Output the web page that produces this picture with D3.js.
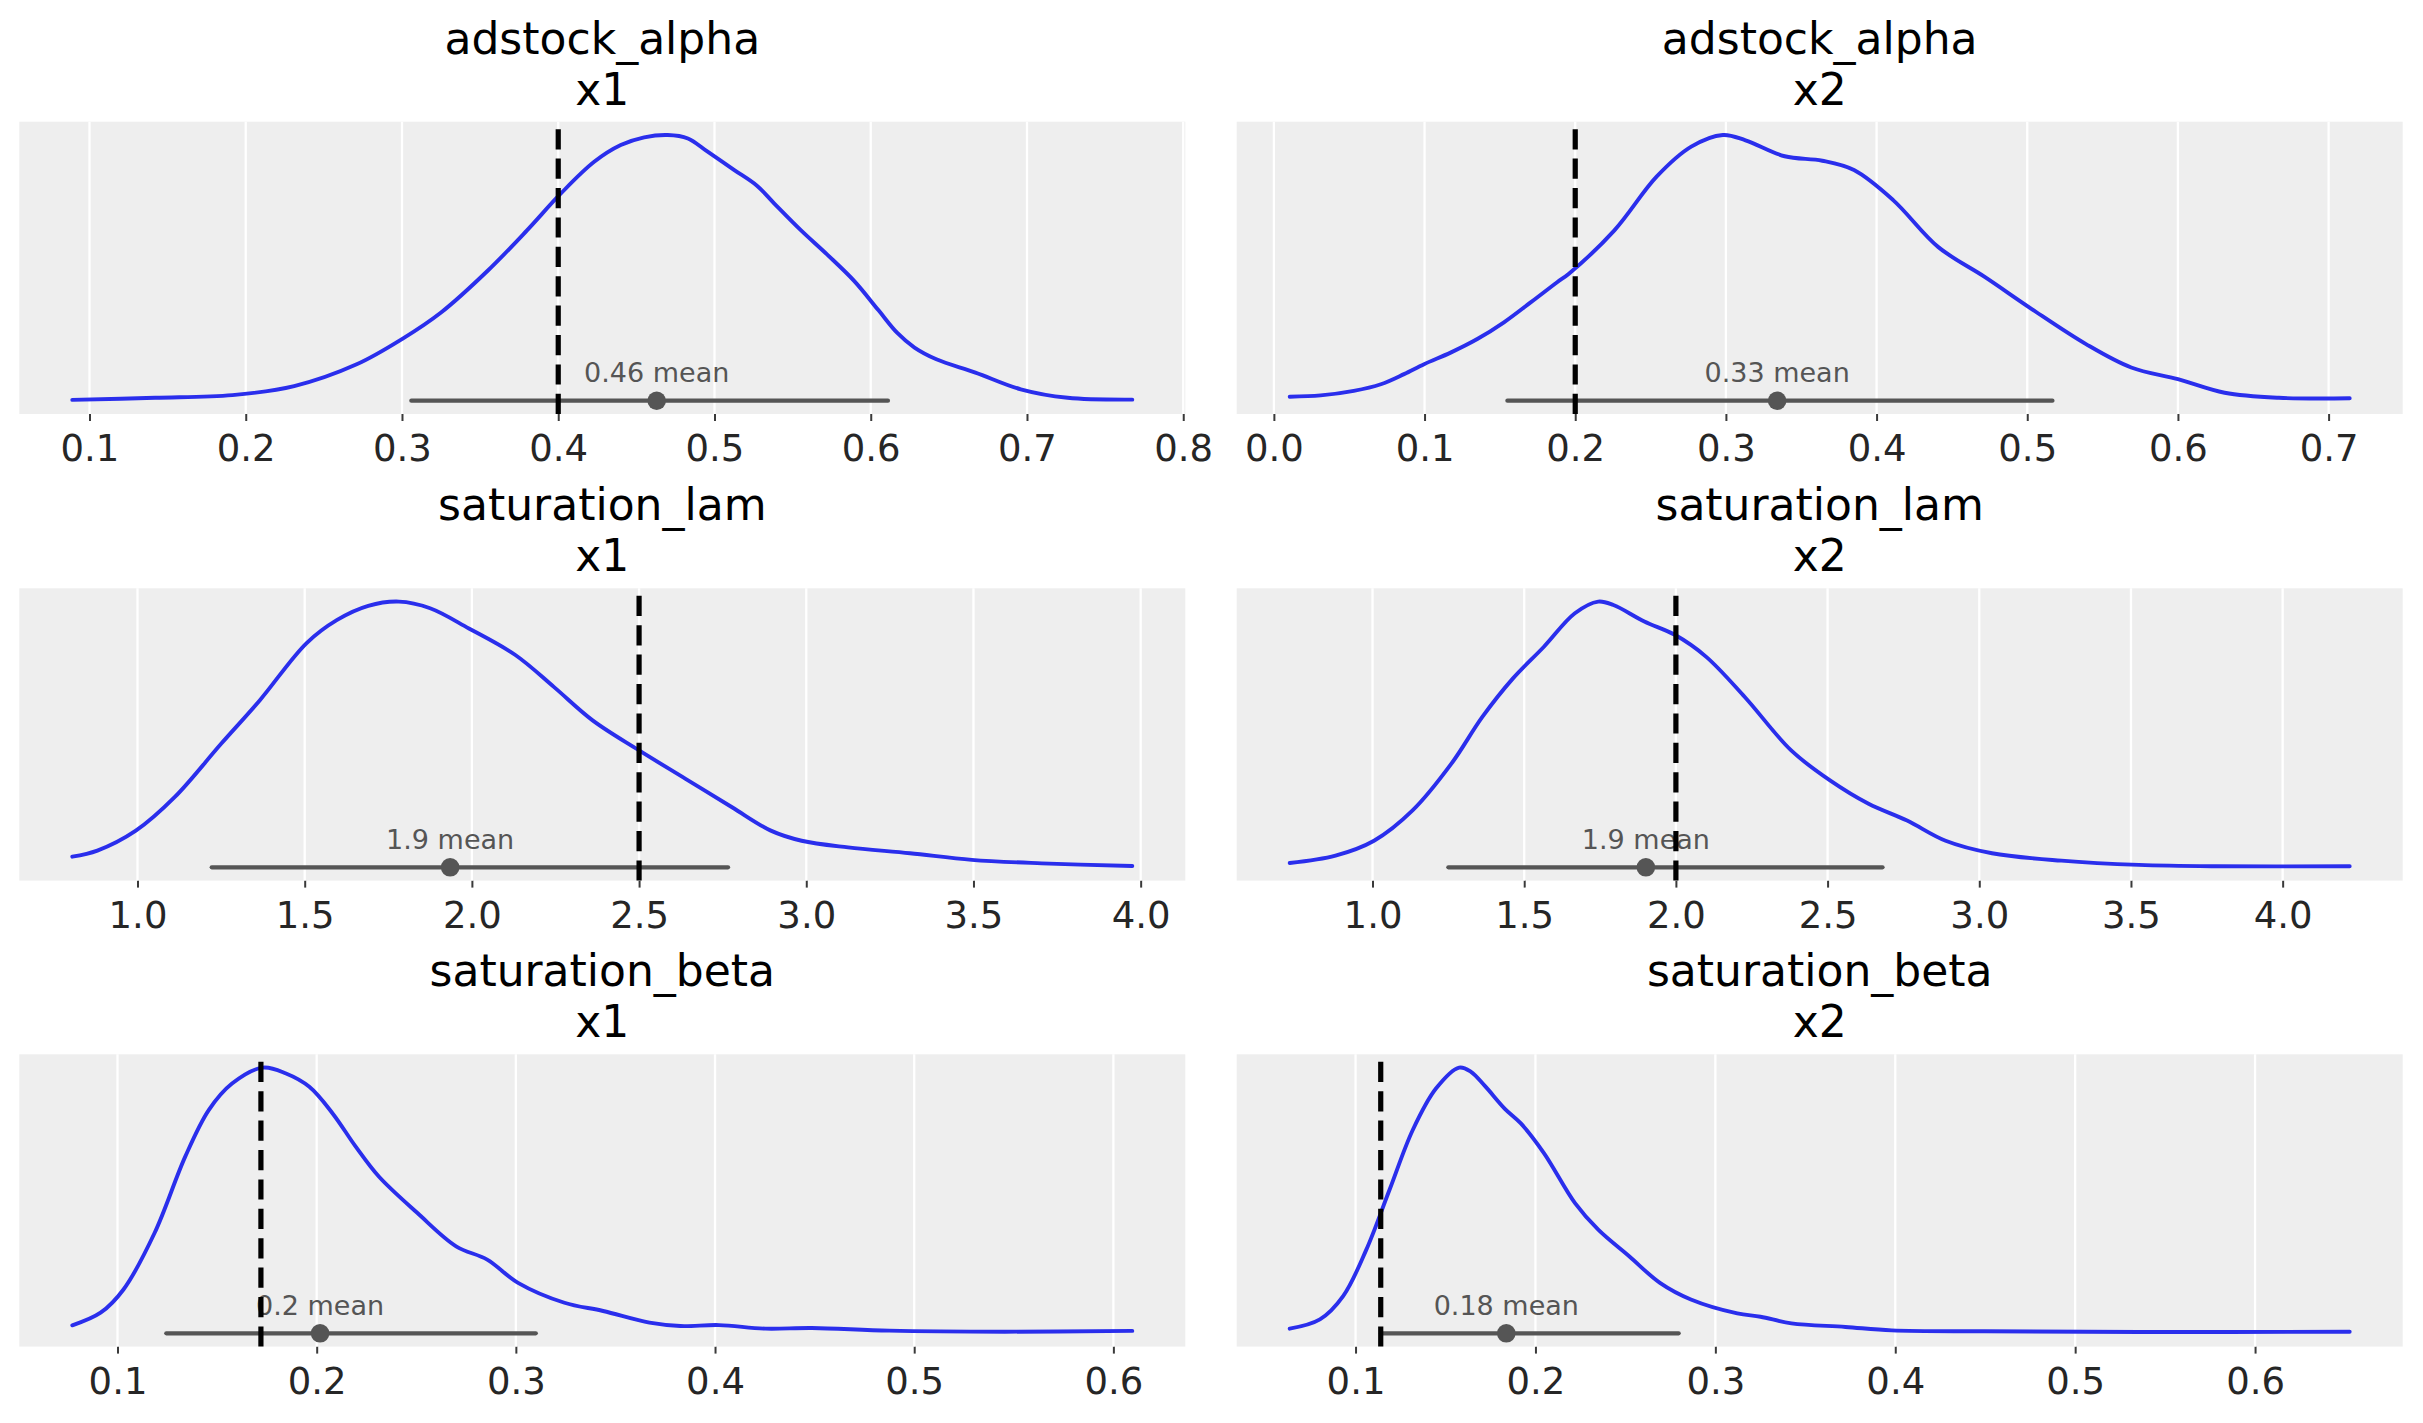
<!DOCTYPE html>
<html>
<head>
<meta charset="utf-8">
<script src="https://cdn.jsdelivr.net/npm/d3@7"></script>
<style>
  html, body { margin: 0; padding: 0; background: #ffffff; }
  svg { display: block; }
</style>
</head>
<body>
<script>
// ---------------- DATA ----------------
const paramNames = ["adstock_alpha", "adstock_alpha", "saturation_lam", "saturation_lam", "saturation_beta", "saturation_beta"];
const channelNames = ["x1", "x2", "x1", "x2", "x1", "x2"];

// KDE curves: [value, relative density]
const kdeAdstockX1 = [[0.089,0.003],[0.142,0.011],[0.1915,0.021],[0.231,0.055],[0.271,0.137],[0.300,0.232],[0.325,0.332],[0.355,0.49],[0.380,0.641],[0.4017,0.78],[0.423,0.899],[0.440,0.962],[0.455,0.991],[0.470,1.0],[0.483,0.987],[0.4956,0.937],[0.5127,0.868],[0.527,0.81],[0.5383,0.742],[0.5554,0.641],[0.5725,0.548],[0.5895,0.45],[0.605,0.34],[0.617,0.255],[0.628,0.2],[0.642,0.156],[0.667,0.106],[0.696,0.043],[0.726,0.011],[0.7674,0.004]];
const kdeAdstockX2 = [[0.0105,0.015],[0.031,0.02],[0.053,0.037],[0.071,0.062],[0.0864,0.10],[0.0997,0.1375],[0.1173,0.181],[0.135,0.232],[0.1527,0.295],[0.1704,0.37],[0.188,0.446],[0.1958,0.478],[0.226,0.641],[0.254,0.843],[0.277,0.956],[0.298,1.0],[0.313,0.98],[0.339,0.92],[0.364,0.903],[0.385,0.868],[0.411,0.755],[0.441,0.578],[0.472,0.465],[0.503,0.345],[0.539,0.213],[0.569,0.125],[0.600,0.081],[0.631,0.030],[0.667,0.011],[0.714,0.009]];
const kdeLamX1 = [[0.805,0.04],[0.880,0.063],[0.995,0.138],[1.111,0.264],[1.250,0.465],[1.366,0.629],[1.505,0.843],[1.597,0.931],[1.690,0.984],[1.782,1.0],[1.875,0.975],[1.991,0.899],[2.130,0.799],[2.245,0.679],[2.361,0.553],[2.5,0.44],[2.639,0.333],[2.778,0.226],[2.894,0.138],[2.986,0.10],[3.125,0.075],[3.31,0.053],[3.495,0.028],[3.704,0.015],[3.975,0.005]];
const kdeLamX2 = [[0.727,0.016],[0.878,0.044],[1.005,0.10],[1.132,0.214],[1.260,0.39],[1.362,0.566],[1.463,0.711],[1.565,0.83],[1.667,0.956],[1.744,1.0],[1.794,0.987],[1.896,0.925],[1.998,0.874],[2.100,0.792],[2.227,0.641],[2.380,0.44],[2.508,0.327],[2.635,0.239],[2.762,0.176],[2.889,0.10],[3.042,0.053],[3.271,0.025],[3.526,0.009],[3.781,0.004],[4.221,0.004]];
const kdeBetaX1 = [[0.0773,0.03],[0.0915,0.0775],[0.103,0.165],[0.1186,0.3775],[0.134,0.665],[0.1458,0.84],[0.1575,0.94],[0.173,1.0],[0.1846,0.9775],[0.1963,0.9275],[0.208,0.8275],[0.2196,0.7025],[0.2312,0.59],[0.2506,0.4525],[0.270,0.3275],[0.2856,0.2775],[0.3011,0.19],[0.3244,0.115],[0.3438,0.084],[0.3671,0.04],[0.3826,0.0275],[0.402,0.031],[0.4253,0.0175],[0.4486,0.02],[0.4874,0.01],[0.5456,0.006],[0.6095,0.009]];
const kdeBetaX2 = [[0.0634,0.0175],[0.0802,0.0525],[0.0931,0.14],[0.106,0.315],[0.1189,0.54],[0.1318,0.765],[0.1447,0.921],[0.1576,1.0],[0.164,0.985],[0.172,0.93],[0.183,0.845],[0.1919,0.79],[0.2048,0.6775],[0.222,0.49],[0.2349,0.39],[0.2521,0.29],[0.2692,0.19],[0.2864,0.1275],[0.3122,0.075],[0.3251,0.0625],[0.3423,0.0375],[0.3723,0.024],[0.3981,0.011],[0.4497,0.0075],[0.5356,0.005],[0.6526,0.006]];
const kdeCurves = [kdeAdstockX1, kdeAdstockX2, kdeLamX1, kdeLamX2, kdeBetaX1, kdeBetaX2];

const refValues = [0.4, 0.2, 2.5, 2.0, 0.172, 0.114];
const meanValues = [0.463, 0.334, 1.935, 1.901, 0.2017, 0.1838];
const meanLabels = ["0.46", "0.33", "1.9", "1.9", "0.2", "0.18"];
const ciLow = [0.306, 0.155, 1.222, 1.25, 0.1245, 0.1142];
const ciHigh = [0.611, 0.5167, 2.766, 2.681, 0.310, 0.2796];

const ticksAdstockX1 = [0.1, 0.2, 0.3, 0.4, 0.5, 0.6, 0.7, 0.8];
const ticksAdstockX2 = [0.0, 0.1, 0.2, 0.3, 0.4, 0.5, 0.6, 0.7];
const ticksLam = [1.0, 1.5, 2.0, 2.5, 3.0, 3.5, 4.0];
const ticksBeta = [0.1, 0.2, 0.3, 0.4, 0.5, 0.6];
const tickSets = [ticksAdstockX1, ticksAdstockX2, ticksLam, ticksLam, ticksBeta, ticksBeta];

// ---------------- LAYOUT ----------------
const W = 2423, H = 1423;
const colX = [19.3, 1236.7];
const plotW = 1166;
const rowY = [121.7, 588.3, 1054.3];
const plotH = 292.3;
const FONT = "'DejaVu Sans', sans-serif";

const svg = d3.select("body").append("svg")
  .attr("width", W).attr("height", H)
  .attr("viewBox", `0 0 ${W} ${H}`);
svg.append("rect").attr("width", W).attr("height", H).attr("fill", "#ffffff");

kdeCurves.forEach((kde, i) => {
  const col = i % 2, row = Math.floor(i / 2);
  const g = svg.append("g").attr("transform", `translate(${colX[col]},${rowY[row]})`);

  const [xmin, xmax] = d3.extent(kde, d => d[0]);
  const pad = (xmax - xmin) * 0.05;
  const x = d3.scaleLinear().domain([xmin - pad, xmax + pad]).range([0, plotW]);
  const ymax = d3.max(kde, d => d[1]);
  const y = d3.scaleLinear().domain([-0.05 * ymax, 1.05 * ymax]).range([plotH, 0]);

  // background
  g.append("rect").attr("width", plotW).attr("height", plotH).attr("fill", "#eeeeee");

  // axis with grid
  const ticks = tickSets[i];
  const axis = d3.axisBottom(x).tickValues(ticks).tickFormat(d3.format(".1f")).tickSize(7).tickPadding(14);
  const ax = g.append("g").attr("transform", `translate(0,${plotH})`).call(axis);
  ax.select(".domain").remove();
  ax.selectAll(".tick line").attr("stroke", "#3a3a3a").attr("stroke-width", 2);
  ax.selectAll(".tick text")
    .attr("font-family", FONT).attr("font-size", 37).attr("fill", "#262626");

  g.append("g").selectAll("line").data(ticks).join("line")
    .attr("x1", d => x(d)).attr("x2", d => x(d))
    .attr("y1", 0).attr("y2", plotH)
    .attr("stroke", "#ffffff").attr("stroke-width", 2.3);

  // KDE
  const line = d3.line().x(d => x(d[0])).y(d => y(d[1])).curve(d3.curveCatmullRom.alpha(0.5));
  g.append("path").datum(kde).attr("d", line)
    .attr("fill", "none").attr("stroke", "#2a2eec").attr("stroke-width", 3.9)
    .attr("stroke-linejoin", "round").attr("stroke-linecap", "round");

  // credible interval
  g.append("line")
    .attr("x1", x(ciLow[i])).attr("x2", x(ciHigh[i]))
    .attr("y1", y(0)).attr("y2", y(0))
    .attr("stroke", "#555555").attr("stroke-width", 4.3).attr("stroke-linecap", "round");
  g.append("circle").attr("cx", x(meanValues[i])).attr("cy", y(0)).attr("r", 9.3)
    .attr("fill", "#555555");
  g.append("text").attr("x", x(meanValues[i])).attr("y", y(0) - 18.5)
    .attr("text-anchor", "middle").attr("font-family", FONT).attr("font-size", 27)
    .attr("fill", "#555555").text(`${meanLabels[i]} mean`);

  // reference line
  g.append("line")
    .attr("x1", x(refValues[i])).attr("x2", x(refValues[i]))
    .attr("y1", plotH).attr("y2", 0)
    .attr("stroke", "#000000").attr("stroke-width", 5.2)
    .attr("stroke-dasharray", "20.2 9.2");

  // titles
  g.append("text").attr("x", plotW / 2).attr("y", -68)
    .attr("text-anchor", "middle").attr("font-family", FONT).attr("font-size", 44)
    .attr("fill", "#000000").text(paramNames[i]);
  g.append("text").attr("x", plotW / 2).attr("y", -17)
    .attr("text-anchor", "middle").attr("font-family", FONT).attr("font-size", 44)
    .attr("fill", "#000000").text(channelNames[i]);
});
</script>
</body>
</html>
